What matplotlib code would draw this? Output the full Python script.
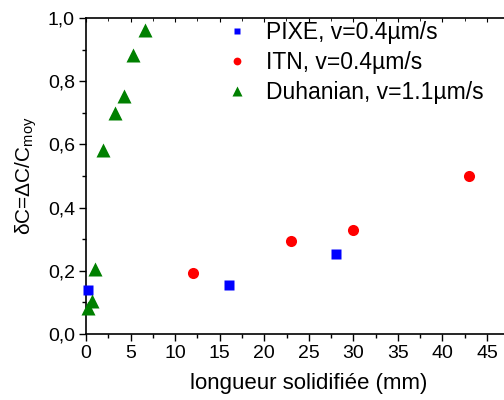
import matplotlib
matplotlib.use("Agg")
import matplotlib.pyplot as plt
from matplotlib.ticker import MultipleLocator, FixedLocator, FuncFormatter

plt.rcParams['font.family'] = ['Liberation Sans', 'DejaVu Sans']
plt.rcParams['mathtext.fontset'] = 'custom'
plt.rcParams['mathtext.rm'] = 'Liberation Sans'
plt.rcParams['mathtext.it'] = 'Liberation Sans'

pixe_x = [0.2, 16, 28]
pixe_y = [0.14, 0.155, 0.253]
itn_x = [12, 23, 30, 43]
itn_y = [0.192, 0.295, 0.33, 0.5]
duh_x = [0.2, 0.65, 1.0, 1.95, 3.25, 4.25, 5.25, 6.6]
duh_y = [0.083, 0.104, 0.205, 0.582, 0.70, 0.753, 0.883, 0.962]

labels = ["PIXE, v=0.4µm/s", "ITN, v=0.4µm/s", "Duhanian, v=1.1µm/s"]
xticks = [0, 5, 10, 15, 20, 25, 30, 35, 40, 45]

fig = plt.figure(figsize=(5.04, 4.0), dpi=100)
x0 = 86 / 504
xmax = 50
px_per_unit = (487 - 86) / 45
width = xmax * px_per_unit / 504
ax = fig.add_axes([x0, 1 - 334 / 400, width, (334 - 18) / 400])

ax.plot(pixe_x, pixe_y, 's', color='#0000ff', ms=6.5, mec='none', label=labels[0], clip_on=False, zorder=3)
ax.plot(itn_x, itn_y, 'o', color='#ff0000', ms=8, mec='none', label=labels[1], clip_on=False, zorder=3)
ax.plot(duh_x, duh_y, '^', color='#008000', ms=9.5, mec='none', label=labels[2], clip_on=False, zorder=3)

ax.set_xlim(0, xmax)
ax.set_ylim(0, 1.0)
ax.xaxis.set_major_locator(FixedLocator(xticks))
ax.xaxis.set_minor_locator(MultipleLocator(2.5))
ax.yaxis.set_major_locator(MultipleLocator(0.2))
ax.yaxis.set_minor_locator(MultipleLocator(0.1))
ax.yaxis.set_major_formatter(FuncFormatter(lambda v, p: f"{v:.1f}".replace('.', ',')))
ax.xaxis.set_major_formatter(FuncFormatter(lambda v, p: f"{v:.0f}"))

ax.tick_params(axis='both', which='major', direction='out', length=5, width=1, labelsize=14, pad=3)
ax.tick_params(axis='both', which='minor', direction='out', length=3, width=1)
for s in ax.spines.values():
    s.set_linewidth(1.2)
ax.spines['right'].set_visible(False)

# top inward ticks
axt = ax.twiny()
axt.set_xlim(ax.get_xlim())
axt.xaxis.set_major_locator(FixedLocator(xticks))
axt.xaxis.set_minor_locator(MultipleLocator(2.5))
axt.tick_params(axis='x', which='major', direction='in', length=3, labeltop=False)
axt.tick_params(axis='x', which='minor', direction='in', length=2)
for s in axt.spines.values():
    s.set_visible(False)

ax.set_xlabel("longueur solidifiée (mm)", fontsize=16, labelpad=8)
ax.set_ylabel(r"δC=ΔC/C$_{\mathregular{moy}}$", fontsize=15, labelpad=6)

leg = ax.legend(loc='upper left', bbox_to_anchor=(221 / 504, 1 - 16 / 400), bbox_transform=fig.transFigure,
                frameon=False, fontsize=16.5, markerscale=0.7, handlelength=1.0, handletextpad=0.75,
                labelspacing=0.32, borderaxespad=0, borderpad=0.2)

fig.savefig("out.png", dpi=100)
